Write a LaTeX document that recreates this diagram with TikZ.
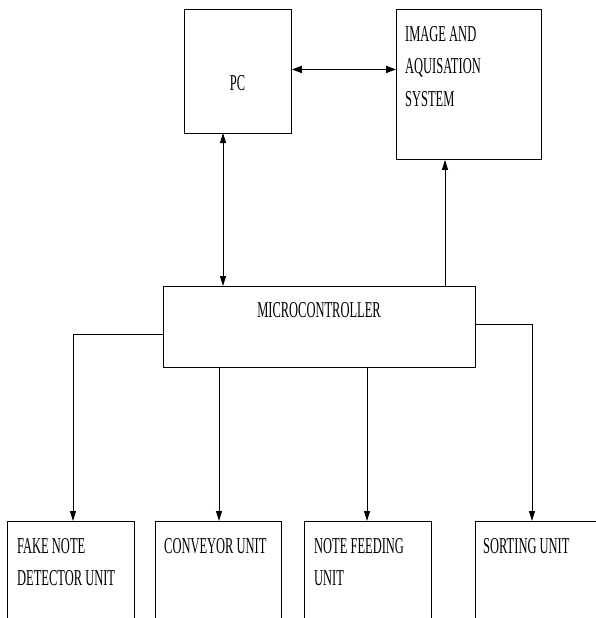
\documentclass[tikz,border=0pt]{standalone}
\usepackage{fontspec}
\setmainfont{Liberation Serif}[FakeStretch=0.55]
\usetikzlibrary{arrows.meta}
\tikzset{
  blk/.style={draw, line width=0.9pt, rectangle, anchor=north west, inner sep=0pt},
  txt/.style={inner sep=0pt, font=\fontsize{22.7}{32}\selectfont},
  conn/.style={line width=0.9pt, -{Triangle[length=10pt,width=6pt]}},
  bconn/.style={line width=0.9pt, {Triangle[length=10pt,width=6pt]}-{Triangle[length=10pt,width=6pt]}},
  thickconn/.style={line width=1.8pt, {Triangle[length=10pt,width=7pt]}-{Triangle[length=10pt,width=7pt]}}
}
\begin{document}
\begin{tikzpicture}[x=1pt,y=-1pt]
\useasboundingbox (0,0) rectangle (596,618);
\clip (0,0) rectangle (596,618);
% boxes
\node[blk, minimum width=107pt, minimum height=124pt] (pc) at (184,9) {};
\node[blk, minimum width=145pt, minimum height=150pt] (img) at (396,9) {};
\node[blk, minimum width=312pt, minimum height=81pt] (micro) at (163,286) {};
\node[blk, minimum width=127pt, minimum height=120pt] (b1) at (7,521) {};
\node[blk, minimum width=126pt, minimum height=120pt] (b2) at (155,521) {};
\node[blk, minimum width=127pt, minimum height=120pt] (b3) at (304,521) {};
\node[blk, minimum width=140pt, minimum height=120pt] (b4) at (475,521) {};
% texts
\node[txt, anchor=base] (tpc) at (237.5,90) {PC};
\node[txt, anchor=base west] (ti1) at (405,42) {IMAGE AND};
\node[txt, anchor=base west] (ti2) at (405,74) {AQUISATION};
\node[txt, anchor=base west] (ti3) at (405,106) {SYSTEM};
\node[txt, anchor=base] (tmc) at (319,317) {MICROCONTROLLER};
\node[txt, anchor=base west] (t11) at (17,553) {FAKE NOTE};
\node[txt, anchor=base west] (t12) at (17,585) {DETECTOR UNIT};
\node[txt, anchor=base west] (t2) at (164,553) {CONVEYOR UNIT};
\node[txt, anchor=base west] (t31) at (314,553) {NOTE FEEDING};
\node[txt, anchor=base west] (t32) at (314,585) {UNIT};
\node[txt, anchor=base west] (t4) at (483,553) {SORTING UNIT};
% connector points
\coordinate (p1) at (223,133);
\coordinate (p2) at (445,286);
\coordinate (p3) at (163,334);
\coordinate (p4) at (475,324);
\coordinate (p5) at (219,367);
\coordinate (p6) at (367,367);
\coordinate (q1) at (73,334);
\coordinate (q4) at (532,324);
% connectors
\draw[thickconn] ([yshift=2pt]pc.east) -- ([yshift=2pt]pc.east -| img.west);
\draw[bconn] (p1) -- (p1 |- micro.north);
\draw[conn] (p2) -- (p2 |- img.south);
\draw[conn] (p3) -- (q1) -- (q1 |- b1.north);
\draw[conn] (p4) -- (q4) -- (q4 |- b4.north);
\draw[conn] (p5) -- (p5 |- b2.north);
\draw[conn] (p6) -- (p6 |- b3.north);
\end{tikzpicture}
\end{document}
